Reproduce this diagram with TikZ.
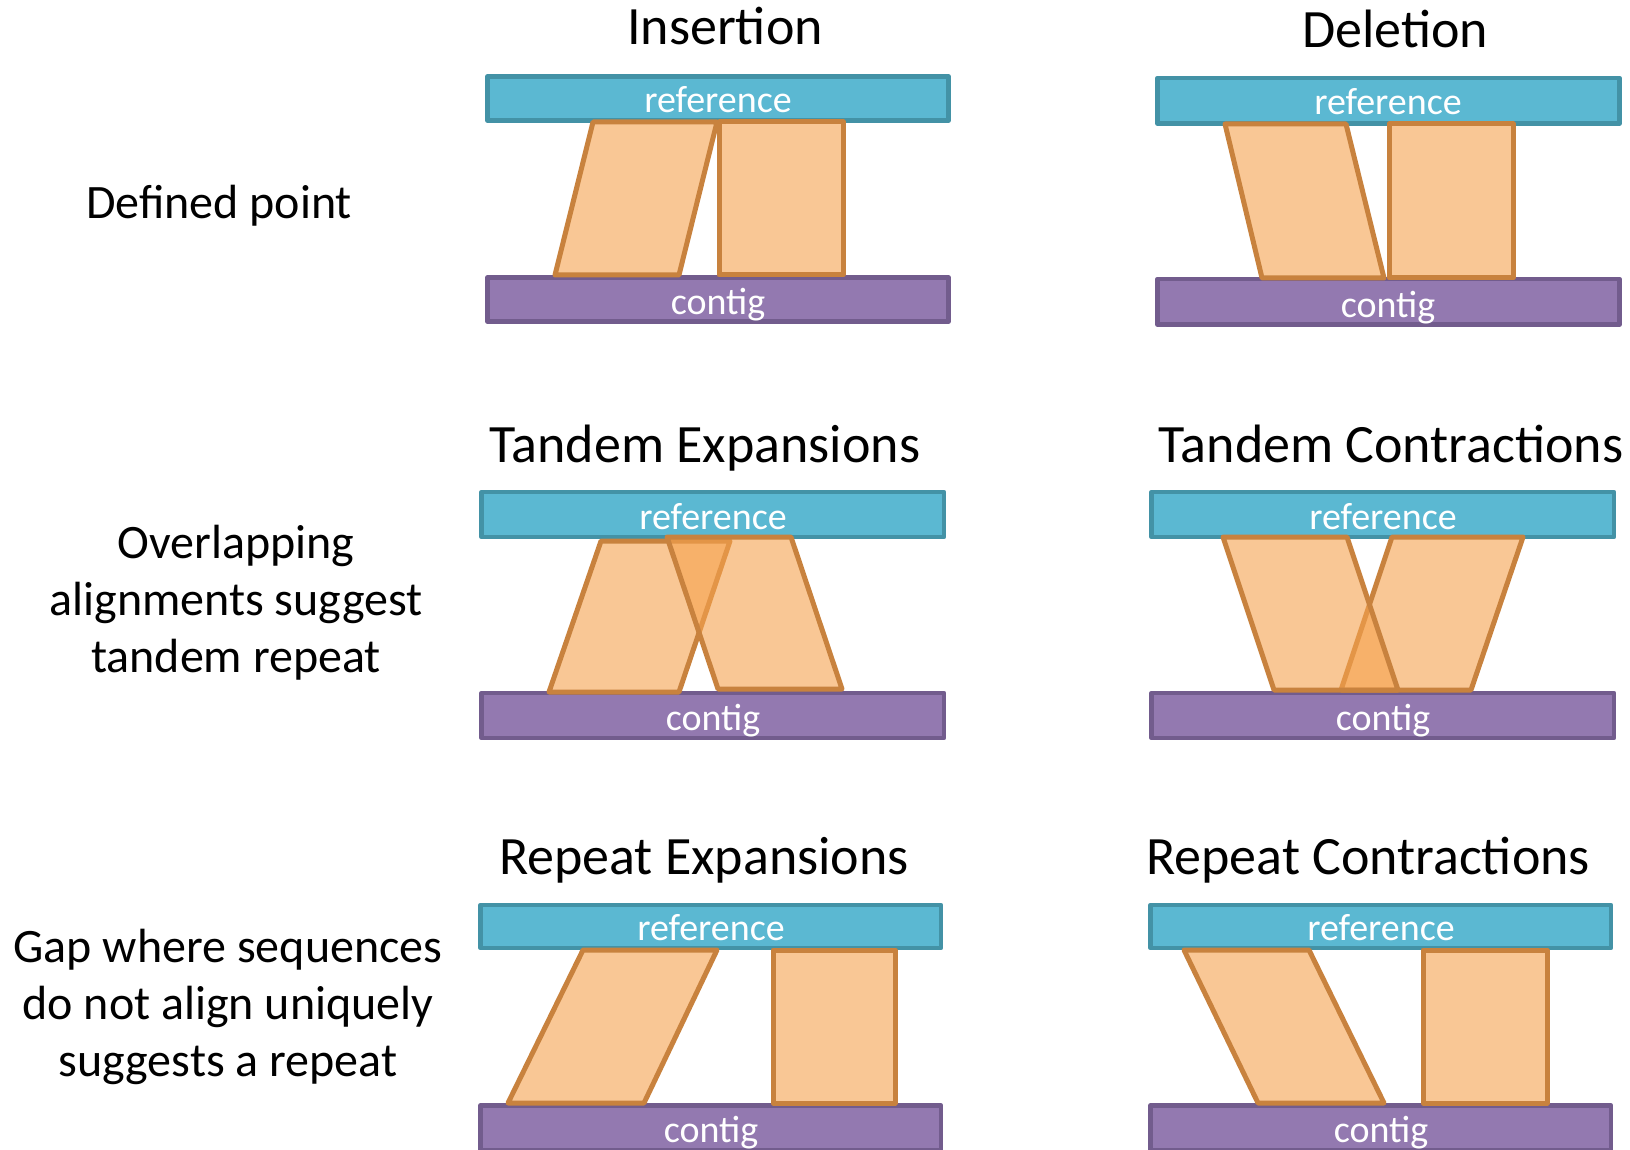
\documentclass[tikz,border=0pt]{standalone}
\usepackage{fontspec}
\setmainfont{Carlito}
\definecolor{refFill}{HTML}{5BB8D2}
\definecolor{refDraw}{HTML}{4392A6}
\definecolor{conFill}{HTML}{9379B0}
\definecolor{conDraw}{HTML}{725C8D}
\definecolor{alnFill}{HTML}{F5A24E}
\definecolor{alnDraw}{HTML}{C8823E}
\tikzset{
  refbar/.style={fill=refFill,draw=refDraw,line width=4.8pt,line join=round},
  conbar/.style={fill=conFill,draw=conDraw,line width=4.8pt,line join=round},
  aln/.style={fill=alnFill,fill opacity=0.6,draw=alnDraw,draw opacity=1,line width=5pt,line join=round},
  bartext/.style={text=white,font=\fontsize{38}{42}\selectfont,anchor=base,inner sep=0pt},
  title/.style={font=\fontsize{54}{64}\selectfont,anchor=base,inner sep=0pt},
  lbl/.style={font=\fontsize{48}{56}\selectfont,anchor=base,inner sep=0pt}
}
\begin{document}
\begin{tikzpicture}[x=1pt,y=-1pt]
\useasboundingbox (0,0) rectangle (1630,1150);
% ---------- row labels ----------
\node[lbl] (l1) at (219,219) {Defined point};
\node[lbl] (l2a) at (236,558) {Overlapping};
\node[lbl] (l2b) at (236,615) {alignments suggest};
\node[lbl] (l2c) at (236,672) {tandem repeat};
\node[lbl] (l3a) at (228,962) {Gap where sequences};
\node[lbl] (l3b) at (228,1019) {do not align uniquely};
\node[lbl] (l3c) at (228,1076) {suggests a repeat};
% ---------- titles ----------
\node[title] (t1) at (725,45) {Insertion};
\node[title] (t2) at (1395,48) {Deletion};
\node[title] (t3) at (705,462) {Tandem Expansions};
\node[title] (t4) at (1391,462) {Tandem Contractions};
\node[title] (t5) at (704,874) {Repeat Expansions};
\node[title] (t6) at (1368,874) {Repeat Contractions};
% ---------- panel 1: insertion ----------
\draw[refbar] (487.5,76.5) rectangle (948.5,120.5);
\draw[conbar] (487.5,277.5) rectangle (948.5,321.5);
\node[bartext] (r1) at (718,113) {reference};
\node[bartext] (c1) at (718,315) {contig};
\draw[aln] (593,122) -- (717,122) -- (679,275) -- (555,275) -- cycle;
\draw[aln] (719,122) rectangle (843,275);
% ---------- panel 2: deletion ----------
\draw[refbar] (1157.5,78) rectangle (1619.5,123.5);
\draw[conbar] (1157.5,279) rectangle (1619.5,324.5);
\node[bartext] (r2) at (1388,115) {reference};
\node[bartext] (c2) at (1388,317) {contig};
\draw[aln] (1225,124) -- (1346,124) -- (1384,278) -- (1262,278) -- cycle;
\draw[aln] (1389,124) rectangle (1513,278);
% ---------- panel 3: tandem expansions ----------
\draw[refbar] (481.5,492) rectangle (944,537);
\draw[conbar] (481.5,693) rectangle (944,738);
\node[bartext] (r3) at (713,529) {reference};
\node[bartext] (c3) at (713,730) {contig};
\draw[aln] (601,541) -- (730,541) -- (679,692) -- (549,692) -- cycle;
\draw[aln] (667,537) -- (791,537) -- (842,689) -- (718,689) -- cycle;
% ---------- panel 4: tandem contractions ----------
\draw[refbar] (1151.5,492) rectangle (1614,537);
\draw[conbar] (1151.5,693) rectangle (1614,738);
\node[bartext] (r4) at (1383,529) {reference};
\node[bartext] (c4) at (1383,730) {contig};
\draw[aln] (1392,537) -- (1523,537) -- (1471,690) -- (1341,690) -- cycle;
\draw[aln] (1223,537) -- (1347,537) -- (1398,690) -- (1274,690) -- cycle;
% ---------- panel 5: repeat expansions ----------
\draw[refbar] (480.5,905) rectangle (941,948);
\draw[conbar] (480.5,1105.5) rectangle (941,1150);
\node[bartext] (r5) at (711,940) {reference};
\node[bartext] (c5) at (711,1142) {contig};
\draw[aln] (583,950) -- (717,950) -- (644,1103) -- (508,1103) -- cycle;
\draw[aln] (773,950) rectangle (895,1103);
% ---------- panel 6: repeat contractions ----------
\draw[refbar] (1150.5,905) rectangle (1611,948);
\draw[conbar] (1150.5,1105.5) rectangle (1611,1150);
\node[bartext] (r6) at (1381,940) {reference};
\node[bartext] (c6) at (1381,1142) {contig};
\draw[aln] (1184,950) -- (1309,950) -- (1384,1103) -- (1258,1103) -- cycle;
\draw[aln] (1423,950) rectangle (1547,1103);
\end{tikzpicture}
\end{document}
